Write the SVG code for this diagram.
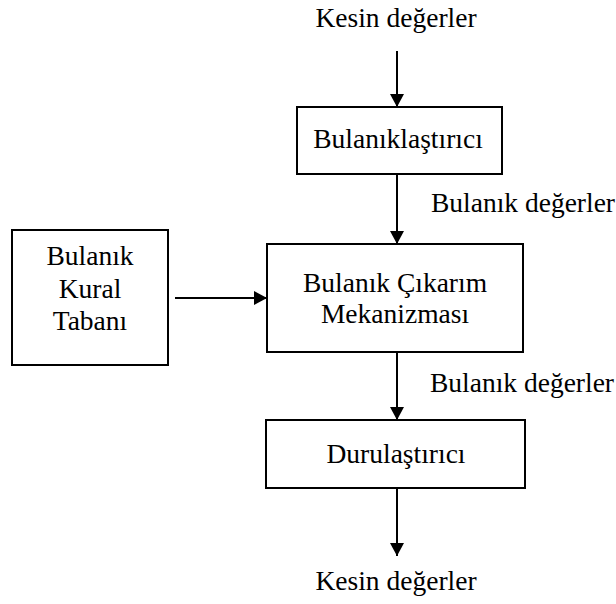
<svg xmlns="http://www.w3.org/2000/svg" width="616" height="604" viewBox="0 0 616 604">
<style>
.box{fill:#fff;stroke:#000;stroke-width:2}
.t{font-size:27.5px;fill:#000}
.c{text-anchor:middle}
.ln{stroke:#000;stroke-width:2;fill:none}
</style>
<defs>
<marker id="ah" markerUnits="userSpaceOnUse" markerWidth="14" markerHeight="14" viewBox="0 0 14 14" refX="13" refY="7" orient="auto">
<path d="M0,0 L13,7 L0,14 Z" fill="#000"/>
</marker>
</defs>
<rect width="616" height="604" fill="#fff"/>
<g id="connectors">
<line class="ln" x1="397" y1="51" x2="397" y2="107" marker-end="url(#ah)"/>
<line class="ln" x1="397" y1="174" x2="397" y2="244" marker-end="url(#ah)"/>
<line class="ln" x1="175" y1="298" x2="267" y2="298" marker-end="url(#ah)"/>
<line class="ln" x1="397" y1="352" x2="397" y2="420" marker-end="url(#ah)"/>
<line class="ln" x1="397" y1="488" x2="397" y2="556" marker-end="url(#ah)"/>
</g>
<g font-family="Liberation Serif, Times New Roman, Tinos, serif">
<g id="label-top"><text class="t c" x="396" y="27">Kesin değerler</text></g>
<g id="fuzzifier">
<rect class="box" x="297" y="107" width="205" height="67"/>
<text class="t c" x="398" y="148">Bulanıklaştırıcı</text>
</g>
<g id="label-fuzzy1"><text class="t" x="431" y="212">Bulanık değerler</text></g>
<g id="rulebase">
<rect class="box" x="12" y="230" width="156" height="135"/>
<text class="t c" x="90" y="265">Bulanık</text>
<text class="t c" x="90" y="298">Kural</text>
<text class="t c" x="90" y="330">Tabanı</text>
</g>
<g id="inference">
<rect class="box" x="267" y="244" width="256" height="108"/>
<text class="t c" x="395" y="292">Bulanık Çıkarım</text>
<text class="t c" x="395" y="323">Mekanizması</text>
</g>
<g id="label-fuzzy2"><text class="t" x="430" y="392">Bulanık değerler</text></g>
<g id="defuzzifier">
<rect class="box" x="266" y="420" width="259" height="68"/>
<text class="t c" x="396" y="463">Durulaştırıcı</text>
</g>
<g id="label-bottom"><text class="t c" x="396" y="590">Kesin değerler</text></g>
</g>
</svg>
